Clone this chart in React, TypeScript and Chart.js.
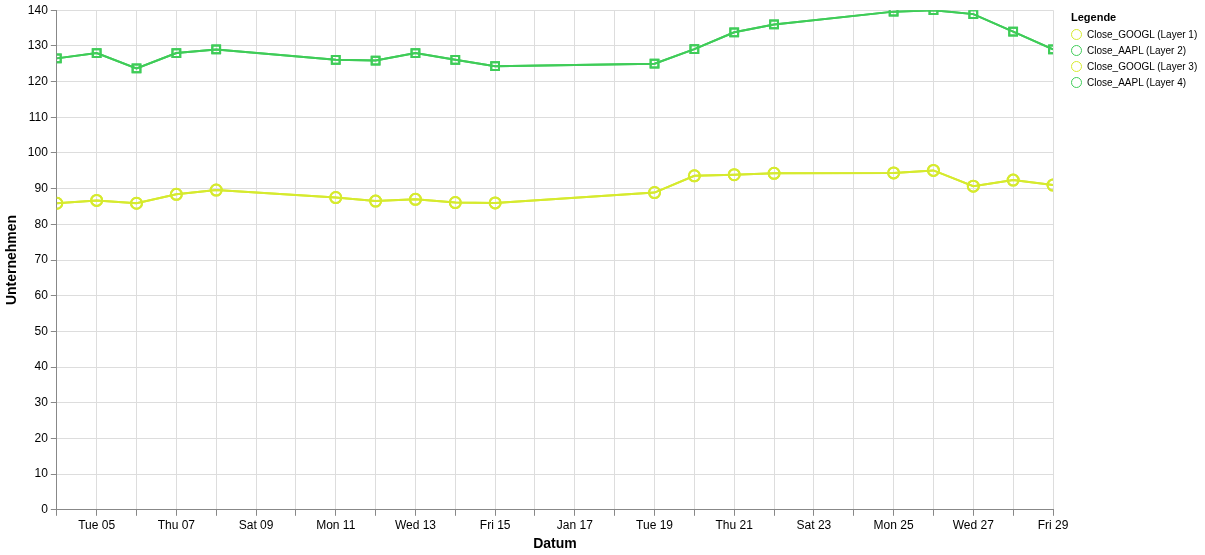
import React, { useEffect, useRef } from "react";
import { Chart, registerables } from "chart.js";
Chart.register(...registerables);

const days = [0, 1, 2, 3, 4, 7, 8, 9, 10, 11, 15, 16, 17, 18, 21, 22, 23, 24, 25];
const aapl = [126.5, 128, 123.7, 128, 129, 126.1, 125.9, 128, 126.1, 124.3, 125, 129.1, 133.8, 136, 139.6, 140, 138.9, 134, 129];
const googl = [85.9, 86.7, 85.9, 88.4, 89.6, 87.5, 86.5, 87, 86.1, 86, 88.9, 93.6, 93.9, 94.3, 94.4, 95.1, 90.7, 92.4, 91];
const legendLabels = ["Close_GOOGL (Layer 1)", "Close_AAPL (Layer 2)", "Close_GOOGL (Layer 3)", "Close_AAPL (Layer 4)"];
const YELLOW = "#d6ea2e";
const GREEN = "#3fcc58";
const legendColors = [YELLOW, GREEN, YELLOW, GREEN];
const WD = ["Sun", "Mon", "Tue", "Wed", "Thu", "Fri", "Sat"];

function label(d: number) {
  const dt = new Date(Date.UTC(2021, 0, 4 + d));
  const day = String(dt.getUTCDate()).padStart(2, "0");
  if (dt.getUTCDay() === 0) return "Jan " + day;
  return WD[dt.getUTCDay()] + " " + day;
}

export default function App() {
  const ref = useRef<HTMLCanvasElement>(null);
  useEffect(() => {
    document.body.style.margin = "0";
    const pts = (arr: number[]) => arr.map((y, i) => ({ x: days[i], y }));
    const mk = (data: number[], color: string, style: string) => ({
      data: pts(data), borderColor: color, backgroundColor: "transparent", borderWidth: 2,
      pointStyle: style, pointRadius: 5.5, pointBorderWidth: 2, pointBackgroundColor: "transparent", tension: 0,
    });
    const font = { family: "Liberation Sans, Arial, sans-serif", size: 12 };
    const c = new Chart(ref.current!, {
      type: "line",
      data: { datasets: [mk(googl, YELLOW, "circle"), mk(aapl, GREEN, "rect"), mk(googl, YELLOW, "circle"), mk(aapl, GREEN, "rect")] as any },
      options: {
        animation: false, responsive: false,
        layout: { padding: { top: 6, right: 152, left: 0, bottom: 2 } },
        plugins: { legend: { display: false }, tooltip: { enabled: false } },
        scales: {
          x: {
            type: "linear", min: 0, max: 25,
            ticks: { stepSize: 1, autoSkip: false, maxRotation: 0, color: "#000", font, callback: (v: any) => (v % 2 === 1 ? label(v) : "") },
            grid: { color: "#ddd", tickLength: 6, tickColor: "#888" },
            border: { color: "#888" },
            title: { display: true, text: "Datum", color: "#000", font: { ...font, size: 14, weight: "bold" }, padding: 0 },
          },
          y: {
            min: 0, max: 140,
            ticks: { stepSize: 10, color: "#000", font },
            grid: { color: "#ddd", tickLength: 6, tickColor: "#888" },
            border: { color: "#888" },
            title: { display: true, text: "Unternehmen", color: "#000", font: { ...font, size: 14, weight: "bold" }, padding: 4 },
          },
        },
      } as any,
    });
    return () => c.destroy();
  }, []);
  return (
    <div style={{ position: "relative", width: 1205, height: 555, fontFamily: "Liberation Sans, Arial, sans-serif" }}>
      <canvas ref={ref} width={1205} height={555} />
      <div style={{ position: "absolute", left: 1071, top: 11 }}>
        <div style={{ fontSize: 11, fontWeight: "bold", marginBottom: 3 }}>Legende</div>
        {legendLabels.map((l, i) => (
          <div key={i} style={{ display: "flex", alignItems: "center", fontSize: 10, height: 16 }}>
            <span style={{ width: 9, height: 9, borderRadius: "50%", border: `1.5px solid ${legendColors[i]}`, marginRight: 5, display: "inline-block" }} />
            {l}
          </div>
        ))}
      </div>
    </div>
  );
}
